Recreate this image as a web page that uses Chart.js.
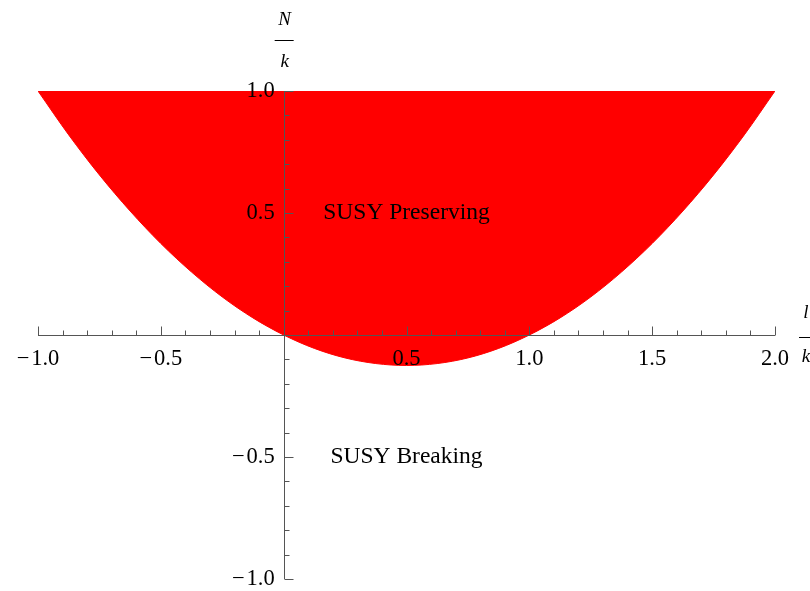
<!DOCTYPE html>
<html>
<head>
<meta charset="utf-8">
<script src="https://cdn.jsdelivr.net/npm/chart.js@4"></script>
<style>
  body { margin: 0; background: #fff; }
  #wrap { width: 810px; height: 591px; }
</style>
</head>
<body>
<div id="wrap"><canvas id="plot" width="810" height="591"></canvas></div>
<script>
// boundary of the red region
const xVals = [-1.0, -0.875, -0.75, -0.625, -0.5, -0.375, -0.25, -0.125, 0.0,
               0.125, 0.25, 0.375, 0.5, 0.625, 0.75, 0.875, 1.0,
               1.125, 1.25, 1.375, 1.5, 1.625, 1.75, 1.875, 2.0];
const lowerEdge = [1.0, 0.82, 0.656, 0.508, 0.375, 0.258, 0.156, 0.07, 0.0,
                   -0.055, -0.094, -0.117, -0.125, -0.117, -0.094, -0.055, 0.0,
                   0.07, 0.156, 0.258, 0.375, 0.508, 0.656, 0.82, 1.0];
const upperEdge = 1.0;

// axes
const xRange = [-1, 2];
const yRange = [-1, 1];
const xTicks = [-1.0, -0.5, 0.5, 1.0, 1.5, 2.0];
const yTicks = [1.0, 0.5, -0.5, -1.0];
const minorStep = 0.1;

// region labels
const regionLabels = ['SUSY Preserving', 'SUSY Breaking'];
const regionX = [0.5, 0.5];
const regionY = [0.5, -0.5];

const serif = '"Liberation Serif", "Times New Roman", serif';
const axisGray = '#555555';

function fmt(v) {
    const s = Math.abs(v).toFixed(1);
    return v < 0 ? '\u2212\u200A' + s : s;
}

const crossAxes = {
    id: 'crossAxes',
    afterDatasetsDraw(chart) {
        const c = chart.ctx;
        const xs = chart.scales.x, ys = chart.scales.y;
        const x0 = xs.getPixelForValue(0), y0 = ys.getPixelForValue(0);
        c.save();
        c.strokeStyle = axisGray;
        c.lineWidth = 1;

        // x axis with ticks pointing up
        c.beginPath();
        c.moveTo(xs.getPixelForValue(xRange[0]), Math.round(y0) + 0.5);
        c.lineTo(xs.getPixelForValue(xRange[1]), Math.round(y0) + 0.5);
        for (let i = 0; i <= Math.round((xRange[1] - xRange[0]) / minorStep); i++) {
            const v = xRange[0] + i * minorStep;
            const major = Math.abs(v * 2 - Math.round(v * 2)) < 1e-6;
            const px = Math.round(xs.getPixelForValue(v)) + 0.5;
            c.moveTo(px, Math.round(y0) + 0.5);
            c.lineTo(px, Math.round(y0) + 0.5 - (major ? 9 : 5));
        }
        // y axis with ticks pointing right
        c.moveTo(Math.round(x0) + 0.5, ys.getPixelForValue(yRange[1]));
        c.lineTo(Math.round(x0) + 0.5, ys.getPixelForValue(yRange[0]));
        for (let i = 0; i <= Math.round((yRange[1] - yRange[0]) / minorStep); i++) {
            const v = yRange[0] + i * minorStep;
            const major = Math.abs(v * 2 - Math.round(v * 2)) < 1e-6;
            const py = Math.round(ys.getPixelForValue(v)) + 0.5;
            c.moveTo(Math.round(x0) + 0.5, py);
            c.lineTo(Math.round(x0) + 0.5 + (major ? 9 : 5), py);
        }
        c.stroke();

        // tick labels
        c.fillStyle = '#000';
        c.font = '22.5px ' + serif;
        c.textAlign = 'center';
        c.textBaseline = 'top';
        xTicks.forEach(v => c.fillText(fmt(v), xs.getPixelForValue(v), y0 + 13));
        c.textAlign = 'right';
        c.textBaseline = 'middle';
        yTicks.forEach(v => c.fillText(fmt(v), x0 - 9, ys.getPixelForValue(v)));

        // region labels
        c.font = '23.5px ' + serif;
        c.textAlign = 'center';
        regionLabels.forEach((t, i) =>
            c.fillText(t, xs.getPixelForValue(regionX[i]), ys.getPixelForValue(regionY[i])));

        // axis titles as fractions
        c.font = 'italic 19px ' + serif;
        c.textAlign = 'center';
        c.fillText('N', x0 + 1, 20);
        c.fillText('k', x0 + 1, 62);
        c.fillRect(x0 - 9, 40, 19, 1);
        c.fillText('l', 806, ys.getPixelForValue(0) - 22);
        c.fillText('k', 806, ys.getPixelForValue(0) + 22);
        c.fillRect(799, ys.getPixelForValue(0) + 2, 14, 1);
        c.restore();
    }
};

new Chart(document.getElementById('plot'), {
    type: 'line',
    data: {
        labels: xVals,
        datasets: [{
            data: xVals.map((x, i) => ({ x: x, y: lowerEdge[i] })),
            borderColor: '#ff0000',
            borderWidth: 1,
            backgroundColor: '#ff0000',
            pointRadius: 0,
            cubicInterpolationMode: 'monotone',
            fill: { value: upperEdge }
        }]
    },
    options: {
        responsive: false,
        animation: false,
        layout: { padding: { left: 38, right: 35, top: 91, bottom: 12 } },
        plugins: { legend: { display: false }, tooltip: { enabled: false } },
        scales: {
            x: { type: 'linear', min: xRange[0], max: xRange[1], display: false },
            y: { type: 'linear', min: yRange[0], max: yRange[1], display: false }
        }
    },
    plugins: [crossAxes]
});
</script>
</body>
</html>
